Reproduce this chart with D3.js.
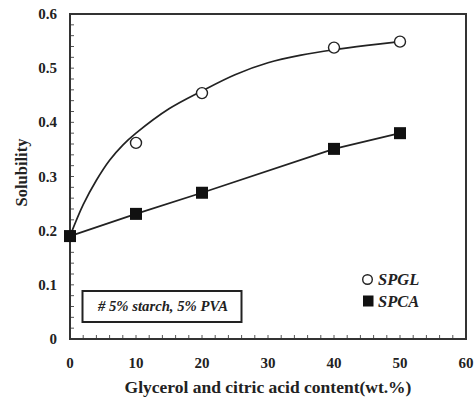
<!DOCTYPE html>
<html>
<head>
<meta charset="utf-8">
<script src="https://cdn.jsdelivr.net/npm/d3@7"></script>
<style>
  html, body { margin: 0; padding: 0; background: #fff; }
  svg text { font-family: "Liberation Serif", "Times New Roman", serif; fill: #222; }
</style>
</head>
<body>
<svg id="chart" width="476" height="402"></svg>
<script>
// Measured solubility versus plasticiser / cross-linker content
const contents = [0, 10, 20, 40, 50];
const spglValues = [0.19, 0.362, 0.454, 0.538, 0.549];
const spcaValues = [0.19, 0.231, 0.270, 0.351, 0.38];

// Trend line drawn through the SPGL points
const spglTrendX = [0, 2, 4, 6, 8, 10, 15, 20, 25, 30, 35, 40, 45, 50];
const spglTrendY = [0.19, 0.248, 0.293, 0.33, 0.358, 0.38, 0.425, 0.458, 0.488, 0.51, 0.524, 0.534, 0.542, 0.549];

const xTicks = [0, 10, 20, 30, 40, 50, 60];
const yTicks = [0, 0.1, 0.2, 0.3, 0.4, 0.5, 0.6];
const seriesNames = ["SPGL", "SPCA"];
const noteText = "#  5% starch, 5% PVA";
const xTitle = "Glycerol and citric acid content(wt.%)";
const yTitle = "Solubility";

const svg = d3.select("#chart");
const margin = { left: 70, top: 14, right: 10, bottom: 63 };
const W = 476, H = 402;
const x = d3.scaleLinear().domain([0, 60]).range([margin.left, W - margin.right]);
const y = d3.scaleLinear().domain([0, 0.6]).range([H - margin.bottom, margin.top]);
const ink = "#222";

// minor ticks (inside) on left and bottom axes
const minorY = d3.range(0, 0.6001, 0.02);
const minorX = d3.range(0, 60.001, 2);
svg.append("g").selectAll("line").data(minorY).join("line")
  .attr("x1", x(0)).attr("x2", x(0) + 4)
  .attr("y1", d => y(d)).attr("y2", d => y(d))
  .attr("stroke", "#555").attr("stroke-width", 1);
svg.append("g").selectAll("line").data(minorX).join("line")
  .attr("y1", y(0)).attr("y2", y(0) - 4)
  .attr("x1", d => x(d)).attr("x2", d => x(d))
  .attr("stroke", "#555").attr("stroke-width", 1);

// frame
svg.append("rect")
  .attr("x", x(0)).attr("y", y(0.6))
  .attr("width", x(60) - x(0)).attr("height", y(0) - y(0.6))
  .attr("fill", "none").attr("stroke", "#333").attr("stroke-width", 2);

// tick labels
svg.append("g").selectAll("text").data(yTicks).join("text")
  .attr("x", x(0) - 13).attr("y", d => y(d) + 5)
  .attr("text-anchor", "end").attr("font-size", 15).attr("font-weight", "bold")
  .text(d => d === 0 ? "0" : d3.format(".1f")(d));
svg.append("g").selectAll("text").data(xTicks).join("text")
  .attr("x", d => x(d)).attr("y", y(0) + 29)
  .attr("text-anchor", "middle").attr("font-size", 15).attr("font-weight", "bold")
  .text(d => d);

// axis titles
svg.append("text")
  .attr("x", 268).attr("y", 393)
  .attr("text-anchor", "middle").attr("font-size", 17.5).attr("font-weight", "bold")
  .text(xTitle);
svg.append("text")
  .attr("transform", `translate(27,${(y(0) + y(0.6)) / 2 - 4}) rotate(-90)`)
  .attr("text-anchor", "middle").attr("font-size", 16.5).attr("font-weight", "bold")
  .text(yTitle);

// SPGL trend curve
const trend = spglTrendX.map((d, i) => [d, spglTrendY[i]]);
svg.append("path").datum(trend)
  .attr("d", d3.line().x(d => x(d[0])).y(d => y(d[1])).curve(d3.curveCatmullRom))
  .attr("fill", "none").attr("stroke", ink).attr("stroke-width", 1.7);

// SPCA line
const spca = contents.map((d, i) => [d, spcaValues[i]]);
svg.append("path").datum(spca)
  .attr("d", d3.line().x(d => x(d[0])).y(d => y(d[1])))
  .attr("fill", "none").attr("stroke", ink).attr("stroke-width", 1.7);

// SPGL open circles (the 0% point coincides with the SPCA square)
const spgl = contents.map((d, i) => [d, spglValues[i]]).slice(1);
svg.append("g").selectAll("circle").data(spgl).join("circle")
  .attr("cx", d => x(d[0])).attr("cy", d => y(d[1])).attr("r", 5.5)
  .attr("fill", "#fff").attr("stroke", ink).attr("stroke-width", 1.4);

// SPCA filled squares
const sq = 12;
svg.append("g").selectAll("rect").data(spca).join("rect")
  .attr("x", d => x(d[0]) - sq / 2).attr("y", d => y(d[1]) - sq / 2)
  .attr("width", sq).attr("height", sq).attr("fill", "#111");

// composition note box
svg.append("rect")
  .attr("x", 82.5).attr("y", 291).attr("width", 159).attr("height", 31)
  .attr("fill", "#fff").attr("stroke", "#222").attr("stroke-width", 2);
svg.append("text")
  .attr("x", 163).attr("y", 311)
  .attr("text-anchor", "middle").attr("font-size", 14)
  .attr("font-weight", "bold").attr("font-style", "italic")
  .attr("textLength", 130).attr("lengthAdjust", "spacingAndGlyphs")
  .text(noteText);

// legend
const lg = svg.append("g");
lg.append("circle").attr("cx", 367.5).attr("cy", 279.5).attr("r", 4.8)
  .attr("fill", "#fff").attr("stroke", ink).attr("stroke-width", 1.4);
lg.append("rect").attr("x", 363).attr("y", 295.5).attr("width", 10.5).attr("height", 11)
  .attr("fill", "#111");
lg.selectAll("text").data(seriesNames).join("text")
  .attr("x", 378).attr("y", (d, i) => 285 + i * 22)
  .attr("font-size", 16.5).attr("font-weight", "bold").attr("font-style", "italic")
  .text(d => d);
</script>
</body>
</html>
